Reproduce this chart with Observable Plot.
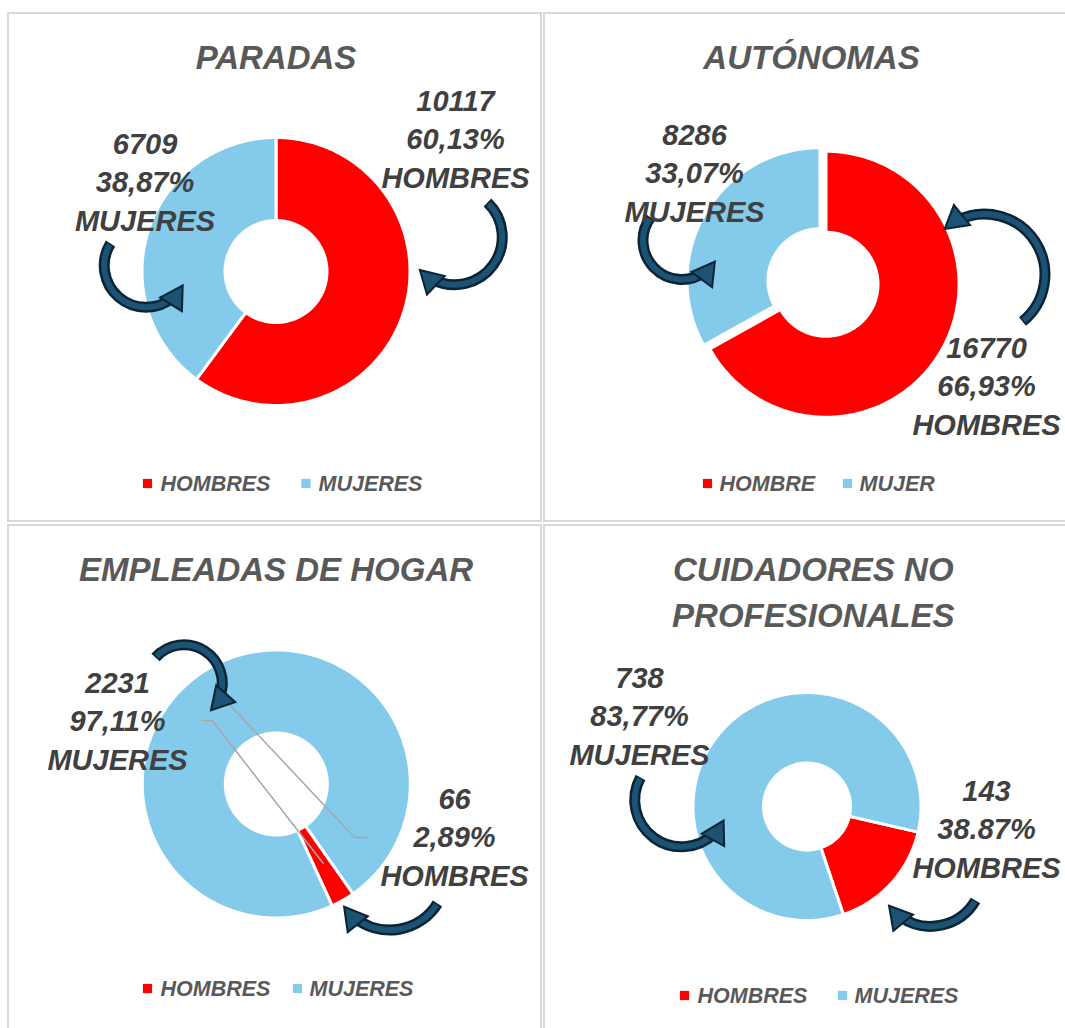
<!DOCTYPE html>
<html>
<head>
<meta charset="utf-8">
<script src="https://cdn.jsdelivr.net/npm/d3@7"></script>
<script src="https://cdn.jsdelivr.net/npm/@observablehq/plot@0.6"></script>
<style>
  html, body { margin: 0; padding: 0; background: #ffffff; }
  #chart { width: 1065px; height: 1028px; overflow: hidden; }
  #chart svg { display: block; }
</style>
</head>
<body>
<div id="chart"></div>
<script>
// ---------------- DATA ----------------
const categorias = ["HOMBRES", "MUJERES"];
const graficos = ["PARADAS", "AUTÓNOMAS", "EMPLEADAS DE HOGAR", "CUIDADORES NO PROFESIONALES"];
const titulos = [["PARADAS"], ["AUTÓNOMAS"], ["EMPLEADAS DE HOGAR"], ["CUIDADORES NO", "PROFESIONALES"]];
const hombres = [10117, 16770, 66, 143];
const mujeres = [6709, 8286, 2231, 738];
const pctHombres = ["60,13%", "66,93%", "2,89%", "38.87%"];
const pctMujeres = ["38,87%", "33,07%", "97,11%", "83,77%"];
const leyendaHombres = ["HOMBRES", "HOMBRE", "HOMBRES", "HOMBRES"];
const leyendaMujeres = ["MUJERES", "MUJER", "MUJERES", "MUJERES"];

// ---------------- LAYOUT (positions / sizes, pixels) ----------------
const W = 1065, H = 1028;
const layout = [
  { box: [8, 13, 541, 521], cx: 275.5, cy: 271, r: 134, r0: 51, start: 0, explode: 0,
    titleX: 275.5, titleY: 68, labH: [455, 110], labM: [144.5, 153],
    legY: 483, legSq: [147, 305.5], legTx: [160, 318],
    arrows: [[110, 243, 181, 287, -90], [487, 202, 421, 271, 90]], leaders: [] },
  { box: [544, 13, 1075, 521], cx: 822.5, cy: 282, r: 133, r0: 52, start: 0, explode: 3.5,
    titleX: 811, titleY: 68, labH: [986, 357], labM: [694, 144],
    legY: 483, legSq: [707, 847], legTx: [719, 859],
    arrows: [[650, 217, 713, 263, -90], [1022, 321, 946, 227, -90]], leaders: [] },
  { box: [8, 525, 541, 1040], cx: 275.8, cy: 783.5, r: 134, r0: 51, start: 145, explode: 0,
    titleX: 275.5, titleY: 580, labH: [454, 808], labM: [117, 692],
    legY: 988, legSq: [147, 297], legTx: [160, 309],
    arrows: [[155, 657, 212, 708, 90], [437, 903, 345, 908, 55]],
    leaders: [[[201.7, 720], [211.7, 720], [322.7, 862.7]], [[230, 705], [354, 837], [366, 837]]] },
  { box: [544, 525, 1075, 1040], cx: 806.5, cy: 806, r: 114, r0: 43.5, start: 103, explode: 0,
    titleX: 812.8, titleY: 580, labH: [986, 800], labM: [639, 687],
    legY: 995, legSq: [684, 842], legTx: [697, 854],
    arrows: [[640, 777, 722, 822, -90], [975, 900, 890, 907, 55]], leaders: [] }
];
const lineGap = 38.7;
const FONT = "'Liberation Sans', Arial, sans-serif";
const HEAD_R = 9.5;        // arrow-head triangle radius
const HEAD_BACK = 12.5;    // distance from tip to triangle centre

// ---------------- BUILD MARK DATA ----------------
const rad = Math.PI / 180;
const slicePts = [];
const labelRows = [];
const titleRows = [];
const legendSq = [];
const legendTx = [];
const panels = [];
const leaderPts = [];

graficos.forEach((g, gi) => {
  const L = layout[gi];
  panels.push({ g, x1: L.box[0], y1: L.box[1], x2: L.box[2], y2: L.box[3] });
  const vals = [hombres[gi], mujeres[gi]];
  const total = d3.sum(vals);
  let a = L.start;
  vals.forEach((v, ci) => {
    const span = v / total * 360;
    const a0 = a, a1 = a + span;
    const mid = (a0 + a1) / 2 * rad;
    const ox = L.explode * Math.sin(mid), oy = -L.explode * Math.cos(mid);
    const n = Math.max(2, Math.ceil(span / 1));
    const key = g + "-" + categorias[ci];
    for (let k = 0; k <= n; k++) {
      const t = (a0 + (a1 - a0) * k / n) * rad;
      slicePts.push({ key, cat: categorias[ci], x: L.cx + ox + L.r * Math.sin(t), y: L.cy + oy - L.r * Math.cos(t) });
    }
    for (let k = n; k >= 0; k--) {
      const t = (a0 + (a1 - a0) * k / n) * rad;
      slicePts.push({ key, cat: categorias[ci], x: L.cx + ox + L.r0 * Math.sin(t), y: L.cy + oy - L.r0 * Math.cos(t) });
    }
    a = a1;
  });
  const hl = [String(hombres[gi]), pctHombres[gi], categorias[0]];
  const ml = [String(mujeres[gi]), pctMujeres[gi], categorias[1]];
  hl.forEach((t, i) => labelRows.push({ text: t, x: L.labH[0], y: L.labH[1] + i * lineGap }));
  ml.forEach((t, i) => labelRows.push({ text: t, x: L.labM[0], y: L.labM[1] + i * lineGap }));
  titulos[gi].forEach((t, i) => titleRows.push({ text: t, x: L.titleX, y: L.titleY + i * 46.5 }));
  legendSq.push({ cat: categorias[0], x: L.legSq[0], y: L.legY });
  legendSq.push({ cat: categorias[1], x: L.legSq[1], y: L.legY });
  legendTx.push({ text: leyendaHombres[gi], x: L.legTx[0], y: L.legY + 7.5 });
  legendTx.push({ text: leyendaMujeres[gi], x: L.legTx[1], y: L.legY + 7.5 });
  L.leaders.forEach((pts, li) => pts.forEach(p => leaderPts.push({ key: g + li, x: p[0], y: p[1] })));
});

const arrowData = [];
layout.forEach((L) => L.arrows.forEach(a => {
  const chord = Math.atan2(a[3] - a[1], a[2] - a[0]);
  const head = chord + a[4] * rad;           // tangent direction at the tip
  arrowData.push({
    x1: a[0], y1: a[1], x2: a[2], y2: a[3], bend: a[4],
    hx: a[2] - HEAD_BACK * Math.cos(head), hy: a[3] - HEAD_BACK * Math.sin(head),
    rot: head / rad + 90
  });
}));

const arrowMarks = arrowData.flatMap(a => [
  Plot.arrow([a], { x1: "x1", y1: "y1", x2: "x2", y2: "y2", bend: a.bend, insetEnd: 13,
    stroke: "#0b2435", strokeWidth: 11, headLength: 0, strokeLinecap: "butt" }),
  Plot.arrow([a], { x1: "x1", y1: "y1", x2: "x2", y2: "y2", bend: a.bend, insetStart: 1.5, insetEnd: 12,
    stroke: "#1c5273", strokeWidth: 6, headLength: 0, strokeLinecap: "butt" })
]);

const chart = Plot.plot({
  width: W, height: H,
  margin: 0,
  x: { domain: [0, W], range: [0, W], axis: null },
  y: { domain: [0, H], range: [0, H], axis: null },
  color: { domain: categorias, range: ["#ff0000", "#83caeb"] },
  style: { background: "#ffffff" },
  marks: [
    Plot.rect(panels, { x1: "x1", x2: "x2", y1: "y1", y2: "y2", fill: "none", stroke: "#d9d9d9", strokeWidth: 2 }),
    Plot.line(slicePts, { x: "x", y: "y", z: "key", fill: "cat", stroke: "#ffffff", strokeWidth: 3,
      curve: "linear-closed", strokeLinejoin: "round" }),
    Plot.line(leaderPts, { x: "x", y: "y", z: "key", stroke: "#a6a6a6", strokeWidth: 1.5 }),
    ...arrowMarks,
    Plot.dot(arrowData, { x: "hx", y: "hy", symbol: "triangle", r: HEAD_R, rotate: "rot",
      fill: "#1c5273", stroke: "#0b2435", strokeWidth: 2, strokeLinejoin: "miter" }),
    Plot.text(titleRows, { x: "x", y: "y", text: "text", lineAnchor: "bottom", textAnchor: "middle",
      fontFamily: FONT, fontSize: 33, fontWeight: "bold", fontStyle: "italic", fill: "#595959" }),
    Plot.text(labelRows, { x: "x", y: "y", text: "text", lineAnchor: "bottom", textAnchor: "middle",
      fontFamily: FONT, fontSize: 29, fontWeight: "bold", fontStyle: "italic", fill: "#404040" }),
    Plot.dot(legendSq, { x: "x", y: "y", fill: "cat", symbol: "square", r: 5.2, stroke: null }),
    Plot.text(legendTx, { x: "x", y: "y", text: "text", lineAnchor: "bottom", textAnchor: "start",
      fontFamily: FONT, fontSize: 21.5, fontWeight: "bold", fontStyle: "italic", fill: "#595959" })
  ]
});
document.getElementById("chart").appendChild(chart);
</script>
</body>
</html>
